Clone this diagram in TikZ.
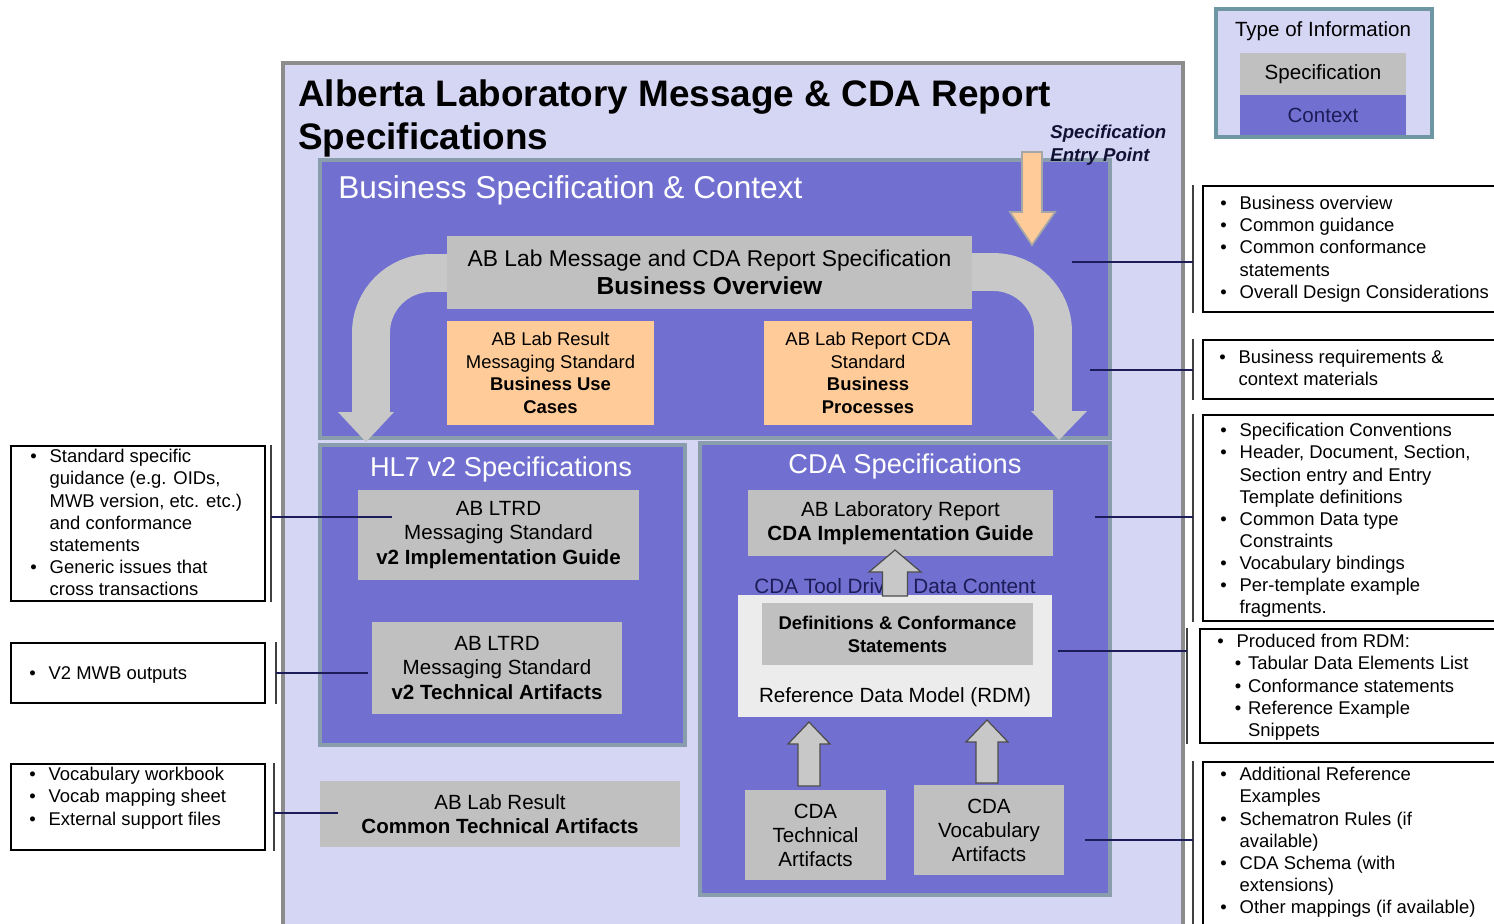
\documentclass[tikz,border=0pt]{standalone}
\usepackage{fontspec}
\setmainfont{Liberation Sans}

\definecolor{lavender}{RGB}{213,213,244}
\definecolor{ctxblue}{RGB}{113,112,208}
\definecolor{specgray}{RGB}{192,192,192}
\definecolor{peach}{RGB}{255,204,153}
\definecolor{rim}{RGB}{137,157,172}
\definecolor{navy}{RGB}{28,28,88}
\definecolor{rdmwhite}{RGB}{236,236,236}
\definecolor{bandgray}{RGB}{200,200,200}

\newcommand{\fs}[2]{\fontsize{#1}{#2}\selectfont}
\newcommand{\nbul}{\makebox[11pt][l]{\textbullet}}
\newcommand{\nind}{\hspace*{11pt}}
\newcommand{\nsub}{\hspace*{10pt}\makebox[7.5pt][l]{\textbullet}}

\tikzset{
  sz/.style 2 args={minimum width=#1*0.02cm, minimum height=#2*0.02cm},
  ctxbox/.style={draw=rim, line width=2.2pt, fill=ctxblue, inner sep=0pt},
  boxtitle/.style={text=white, inner sep=0pt, font=\fs{15.5}{18}},
  specbox/.style={fill=specgray, inner sep=0pt, align=center, font=\fs{11.7}{13.7}},
  peachbox/.style={fill=peach, inner sep=0pt, align=center, font=\fs{10.5}{12.8}},
  notebox/.style={draw=black, line width=0.9pt, fill=white, inner sep=0pt},
  notetext/.style={anchor=north west, align=left, inner sep=0pt, font=\fs{10.5}{12.6}},
  link/.style={draw=navy, line width=0.9pt},
  brace/.style={draw=black!75, line width=0.9pt},
  band/.style={draw=bandgray, line width=21.6pt, rounded corners=34pt},
  upbox/.style={draw=black!70, fill=bandgray, line width=0.7pt},
}

\begin{document}
\begin{tikzpicture}[x=0.02cm,y=-0.02cm]
  \useasboundingbox (0,0) rectangle (1494,923);
  \clip (0,0) rectangle (1494,923);

  % main frame
  \node[sz={900}{887}, draw=black!45, line width=2.4pt, fill=lavender, inner sep=0pt] (frame) at (733,506.5) {};
  \node[anchor=north west, align=left, inner sep=0pt, font=\fs{21}{24.5}\bfseries] (title) at (298,79) {Alberta Laboratory Message \& CDA Report\\Specifications};

  % context boxes
  \node[ctxbox, sz={790}{278}] (bsc) at (715,299) {};
  \node[boxtitle, anchor=west, font=\fs{18}{20}] (bsct) at (338,190) {Business Specification \& Context};
  \node[ctxbox, sz={365}{300}] (hl7) at (502.5,595) {};
  \node[boxtitle] (hl7t) at (501,469) {HL7 v2 Specifications};
  \node[ctxbox, sz={410}{452}] (cda) at (905,669) {};
  \node[boxtitle] (cdat) at (905,466) {CDA Specifications};

  % bent arrows from the overview
  \draw[band] (470,273) -- (371,273) -- (371,414);
  \fill[bandgray] (338,412) -- (394,412) -- (366,442) -- cycle;
  \draw[band] (950,272) -- (1053,272) -- (1053,414);
  \fill[bandgray] (1031,411) -- (1087,411) -- (1059,440) -- cycle;

  \node[specbox, sz={525}{73}, font=\fs{13}{16}] (ovw) at (709.5,272.5) {AB Lab Message and CDA Report Specification\\{\fs{14}{16}\bfseries Business Overview}};
  \node[peachbox, sz={207}{104}] (buc) at (550.5,373) {AB Lab Result\\Messaging Standard\\\textbf{Business Use}\\\textbf{Cases}};
  \node[peachbox, sz={208}{104}] (bpr) at (868,373) {AB Lab Report CDA\\Standard\\\textbf{Business}\\\textbf{Processes}};

  % entry point
  \draw[draw=black!35, fill=peach, line width=1pt] (1022,152) -- (1042,152) -- (1042,212) -- (1055,212) -- (1032,245) -- (1010,212) -- (1022,212) -- cycle;
  \node[anchor=north west, align=left, inner sep=0pt, text=navy!60!black, font=\fs{10.6}{13}\bfseries\itshape] (entry) at (1050,125) {Specification\\Entry Point};

  % HL7 v2
  \node[specbox, sz={281}{90}] (v2ig) at (498.5,535) {AB LTRD\\Messaging Standard\\\textbf{v2 Implementation Guide}};
  \node[specbox, sz={250}{92}] (v2ta) at (497,668) {AB LTRD\\Messaging Standard\\\textbf{v2 Technical Artifacts}};
  \node[specbox, sz={360}{66}] (cta) at (500,814) {AB Lab Result\\\textbf{Common Technical Artifacts}};

  % CDA
  \node[specbox, sz={305}{66}] (cdaig) at (900.5,523) {AB Laboratory Report\\\textbf{CDA Implementation Guide}};
  \node[text=navy, inner sep=0pt, font=\fs{11.8}{14}] (tool) at (895,586) {CDA Tool Driven Data Content};
  \node[fill=rdmwhite, sz={314}{122}, inner sep=0pt] (rdm) at (895,656) {};
  \node[specbox, sz={271}{62}, font=\fs{10.5}{13}\bfseries] (dcs) at (897.5,634) {Definitions \& Conformance\\Statements};
  \node[inner sep=0pt, font=\fs{11.7}{14}] (rdmt) at (895,697) {Reference Data Model (RDM)};
  \node[specbox, sz={141}{90}] (ctech) at (815.5,835) {CDA\\Technical\\Artifacts};
  \node[specbox, sz={150}{90}] (cvoc) at (989,830) {CDA\\Vocabulary\\Artifacts};
  \foreach \cx/\yb/\yt/\sw/\hw in {895/596/550/12.5/26, 809/786/722/11/21, 987/783/720/11/21}
    \draw[upbox] (\cx-\sw,\yb) -- (\cx-\sw,\yt+22) -- (\cx-\hw,\yt+22) -- (\cx,\yt)
      -- (\cx+\hw,\yt+22) -- (\cx+\sw,\yt+22) -- (\cx+\sw,\yb) -- cycle;

  % notes on the right
  \node[notebox, sz={297}{126}] (r1) at (1351.5,249) {};
  \node[notebox, sz={297}{59}] (r2) at (1351.5,369.5) {};
  \node[notebox, sz={297}{206}] (r3) at (1351.5,518) {};
  \node[notebox, sz={300}{114}] (r4) at (1350,686) {};
  \node[notebox, sz={297}{173}] (r5) at (1351.5,848.5) {};
  \node[notetext] (r1t) at (1220,196) {\nbul Business overview\\\nbul Common guidance\\\nbul Common conformance\\\nind statements\\\nbul Overall Design Considerations};
  \node[notetext] (r2t) at (1219,350) {\nbul Business requirements \&\\\nind context materials};
  \node[notetext] (r3t) at (1220,423) {\nbul Specification Conventions\\\nbul Header, Document, Section,\\\nind Section entry and Entry\\\nind Template definitions\\\nbul Common Data type\\\nind Constraints\\\nbul Vocabulary bindings\\\nbul Per-template example\\\nind fragments.};
  \node[notetext] (r4t) at (1217,634) {\nbul Produced from RDM:\\\nsub Tabular Data Elements List\\\nsub Conformance statements\\\nsub Reference Example\\\hspace*{17.5pt}Snippets};
  \node[notetext] (r5t) at (1220,767) {\nbul Additional Reference\\\nind Examples\\\nbul Schematron Rules (if\\\nind available)\\\nbul CDA Schema (with\\\nind extensions)\\\nbul Other mappings (if available)};

  % notes on the left
  \node[notebox, sz={254}{155}] (l1) at (138,523.5) {};
  \node[notebox, sz={254}{60}] (l2) at (138,673) {};
  \node[notebox, sz={254}{86}] (l3) at (138,807) {};
  \node[notetext] (l1t) at (30,449) {\nbul Standard specific\\\nind guidance (e.g. OIDs,\\\nind MWB version, etc. etc.)\\\nind and conformance\\\nind statements\\\nbul Generic issues that\\\nind cross transactions};
  \node[notetext] (l2t) at (29,666) {\nbul V2 MWB outputs};
  \node[notetext] (l3t) at (29,767) {\nbul Vocabulary workbook\\\nbul Vocab mapping sheet\\\nbul External support files};

  % connectors
  \coordinate (ovwr) at (1072,262);
  \coordinate (bscr) at (1090,370);
  \coordinate (cdaigr) at (1095,517);
  \coordinate (rdmr) at (1058,651);
  \coordinate (cdar) at (1085,840);
  \coordinate (v2igl) at (392,517);
  \coordinate (v2tal) at (368,673);
  \coordinate (ctal) at (338,813);
  \foreach \n/\c/\s in {r1/ovwr/-0.18cm, r2/bscr/-0.18cm, r3/cdaigr/-0.18cm, r4/rdmr/-0.24cm, r5/cdar/-0.18cm}{
    \coordinate (b\n) at ([xshift=\s]\n.west);
    \draw[brace] (b\n |- \n.north) -- (b\n |- \n.south);
    \draw[link] (\c) -- (\c -| b\n);
  }
  \foreach \n/\c/\s in {l1/v2igl/0.1cm, l2/v2tal/0.2cm, l3/ctal/0.16cm}{
    \coordinate (b\n) at ([xshift=\s]\n.east);
    \draw[brace] (b\n |- \n.north) -- (b\n |- \n.south);
    \draw[link] (\c) -- (\c -| b\n);
  }

  % legend
  \node[sz={216}{128}, draw=rim!80!teal, fill=lavender, line width=2.4pt, inner sep=0pt] (legend) at (1324,73) {};
  \node[inner sep=0pt, font=\fs{11.7}{14}] (legt) at (1323,31) {Type of Information};
  \node[fill=specgray, sz={166}{42}, inner sep=0pt, font=\fs{11.7}{14}] (legs) at (1323,74) {Specification};
  \node[fill=ctxblue, sz={166}{40}, inner sep=0pt, text=navy, font=\fs{11.7}{14}] (legc) at (1323,115) {Context};
\end{tikzpicture}
\end{document}
